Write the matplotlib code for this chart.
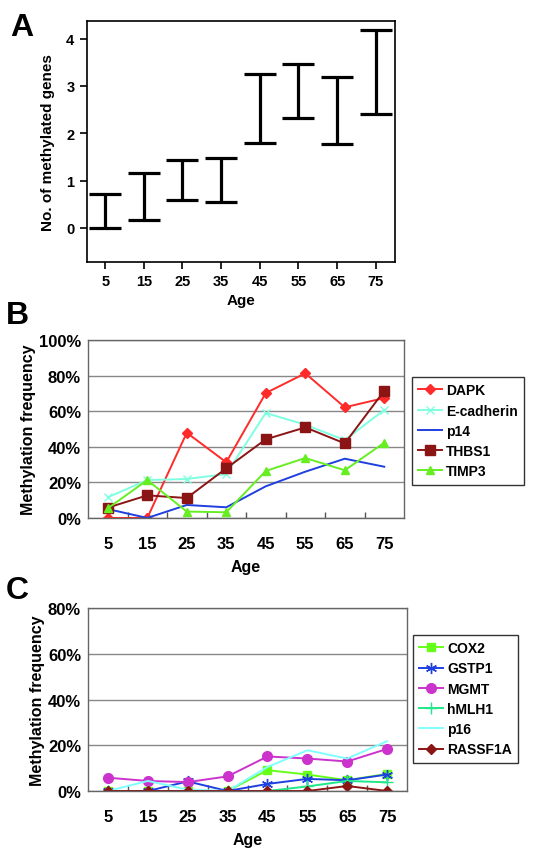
import matplotlib
matplotlib.use("Agg")
import matplotlib.pyplot as plt
import numpy as np
from matplotlib.ticker import FixedLocator, PercentFormatter

plt.rcParams['font.family'] = ['Liberation Sans', 'DejaVu Sans']
plt.rcParams['font.weight'] = 'bold'

ages = ['5', '15', '25', '35', '45', '55', '65', '75']

# Panel A: range of number of methylated genes
a_low = [0.0, 0.17, 0.58, 0.55, 1.80, 2.32, 1.78, 2.40]
a_high = [0.72, 1.16, 1.44, 1.48, 3.25, 3.46, 3.19, 4.17]

# Panel B: methylation frequency (%)
b_genes = ['DAPK', 'E-cadherin', 'p14', 'THBS1', 'TIMP3']
dapk = [0, 0, 47.9, 31.3, 70.2, 81.3, 62.2, 67.4]
ecad = [11.6, 21.3, 21.9, 24.7, 59.0, 52.4, 43.8, 60.7]
p14 = [5.0, 0, 7.3, 6.0, 17.8, 26.0, 33.3, 28.8]
thbs1 = [5.8, 12.7, 11.2, 27.9, 44.2, 50.9, 41.9, 71.5]
timp3 = [5.4, 21.3, 3.6, 3.2, 26.4, 33.7, 26.8, 42.3]

# Panel C: methylation frequency (%)
c_genes = ['COX2', 'GSTP1', 'MGMT', 'hMLH1', 'p16', 'RASSF1A']
cox2 = [0, 0, 0, 0, 9.1, 7.2, 4.7, 7.5]
gstp1 = [0, 0, 4.2, 0, 3.1, 5.3, 4.7, 7.2]
mgmt = [5.8, 4.4, 3.9, 6.4, 15.1, 14.2, 12.9, 18.4]
hmlh1 = [0, 0, 0, 0, 0, 2.0, 4.4, 3.8]
p16 = [0, 4.4, 0.6, 0, 10.5, 17.8, 14.2, 21.8]
rassf1a = [0, 0, 0, 0, 0, 0, 2.2, 0]

x = np.arange(len(ages))
fig = plt.figure(figsize=(5.42, 8.53), dpi=100)

# ---------- Panel A ----------
axA = fig.add_axes([0.1605, 0.6917, 0.5685, 0.2825])
low = np.array(a_low); high = np.array(a_high)
mid = (low + high) / 2
axA.errorbar(x, mid, yerr=[mid - low, high - mid], fmt='none', ecolor='black',
             elinewidth=2.3, capsize=11.5, capthick=2.3)
axA.set_xlim(-0.47, 7.5)
axA.set_ylim(-0.72, 4.37)
axA.set_xticks(x)
axA.set_xticklabels(ages)
axA.set_yticks([0, 1, 2, 3, 4])
axA.tick_params(axis='both', direction='out', length=5, width=1.2, labelsize=10.5, pad=4)
for s in axA.spines.values():
    s.set_linewidth(1.2)
axA.set_xlabel('Age', fontsize=11, fontweight='bold', labelpad=3)
axA.set_ylabel('No. of methylated genes', fontsize=11, fontweight='bold', labelpad=8)
fig.text(0.018, 0.967, 'A', fontsize=23, fontweight='bold', va='center')


def style_freq_ax(ax, ymax):
    ax.set_xlim(-0.5, 7.5)
    ax.set_ylim(0, ymax)
    ax.set_xticks(x)
    ax.set_xticklabels(ages)
    ax.xaxis.set_minor_locator(FixedLocator(np.arange(0.5, 7.0, 1.0)))
    ax.tick_params(axis='x', which='major', length=0, labelsize=12, pad=13)
    ax.tick_params(axis='x', which='minor', direction='in', length=4, width=1, color='#555555')
    ax.tick_params(axis='y', length=0, labelsize=12, pad=5)
    ax.yaxis.set_major_formatter(PercentFormatter(decimals=0))
    ax.grid(axis='y', color='#888888', linewidth=1.0)
    ax.set_axisbelow(True)
    for s in ax.spines.values():
        s.set_color('#666666')
        s.set_linewidth(1.0)
    ax.set_xlabel('Age', fontsize=11.5, fontweight='bold', labelpad=6)
    ax.set_ylabel('Methylation frequency', fontsize=11.5, fontweight='bold', labelpad=2)


legend_kw = dict(frameon=True, fancybox=False, edgecolor='black', fontsize=10,
                 handlelength=1.7, borderpad=0.45, labelspacing=0.45,
                 handletextpad=0.3, borderaxespad=0)

# ---------- Panel B ----------
axB = fig.add_axes([0.1624, 0.3916, 0.583, 0.2086])
b_series = [dapk, ecad, p14, thbs1, timp3]
b_colors = ['#ff2a2a', '#7fffe0', '#1f3fe0', '#8b1414', '#66ee22']
b_markers = ['D', 'x', None, 's', '^']
b_msize = [5, 6, 0, 7, 6]
for name, vals, c, m, ms in zip(b_genes, b_series, b_colors, b_markers, b_msize):
    axB.plot(x, vals, color=c, marker=m, markersize=ms, linewidth=1.4, label=name,
             markeredgecolor=c, markerfacecolor=c)
style_freq_ax(axB, 100)
axB.set_yticks([0, 20, 40, 60, 80, 100])
axB.legend(loc='upper left', bbox_to_anchor=(0.760, 0.5568), bbox_transform=fig.transFigure,
           **legend_kw)
axB.get_legend().get_frame().set_linewidth(1.0)
fig.text(0.01, 0.630, 'B', fontsize=23, fontweight='bold', va='center')

# ---------- Panel C ----------
axC = fig.add_axes([0.1624, 0.0715, 0.5886, 0.2145])
c_series = [cox2, gstp1, mgmt, hmlh1, p16, rassf1a]
c_colors = ['#66ff1a', '#1f3fe0', '#cc33cc', '#1fe88a', '#80ffff', '#8b1414']
c_markers = ['s', (6, 2, 0), 'o', '+', None, 'D']
c_msize = [6, 8, 7, 8, 0, 5]
for name, vals, c, m, ms in zip(c_genes, c_series, c_colors, c_markers, c_msize):
    axC.plot(x, vals, color=c, marker=m, markersize=ms, linewidth=1.4, label=name,
             markeredgecolor=c, markerfacecolor=c)
style_freq_ax(axC, 80)
axC.set_yticks([0, 20, 40, 60, 80])
axC.legend(loc='upper left', bbox_to_anchor=(0.762, 0.2544), bbox_transform=fig.transFigure,
           **legend_kw)
axC.get_legend().get_frame().set_linewidth(1.0)
fig.text(0.01, 0.307, 'C', fontsize=23, fontweight='bold', va='center')

fig.savefig('out.png', dpi=100, facecolor='white')
